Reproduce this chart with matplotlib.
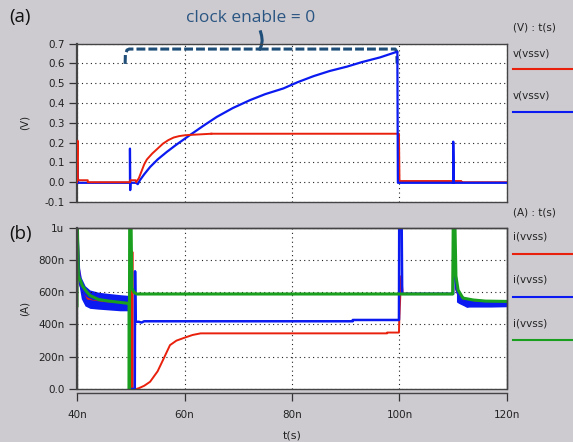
import matplotlib.pyplot as plt
from matplotlib.patches import Rectangle

# ---- panel (a): voltages, t in ns ----
t_a_red = [40.0, 40.1, 40.15, 40.3, 42.0, 42.0, 49.9, 49.9, 50.9, 51.0, 51.5, 52.0, 52.5, 53.0,
           54.0, 55.0, 56.0, 57.0, 58.0, 59.0, 60.0, 61.0, 63.0, 65.0, 99.9, 100.0, 111.5, 111.5, 120.0]
v_a_red = [0.0, 0.21, 0.02, 0.01, 0.01, 0.0, 0.0, 0.01, 0.01, 0.0, 0.02, 0.055, 0.09, 0.115,
           0.145, 0.17, 0.195, 0.213, 0.226, 0.233, 0.237, 0.239, 0.242, 0.245, 0.245, 0.006, 0.006, 0.0, 0.0]

t_a_blue = [40.0, 40.05, 40.2, 49.85, 49.85, 49.9, 49.95, 51.0, 51.3, 51.7, 52.5, 53.6, 55.0, 56.7,
            58.5, 61.0, 63.5, 66.0, 69.0, 72.2, 75.0, 78.4, 81.0, 84.0, 87.0, 90.2, 93.0, 96.4,
            99.6, 99.7, 110.0, 110.0, 110.1, 120.0]
v_a_blue = [0.0, 0.1, -0.003, -0.003, 0.17, -0.04, -0.003, -0.003, -0.01, 0.01, 0.04, 0.077, 0.115, 0.153,
            0.19, 0.238, 0.285, 0.33, 0.375, 0.415, 0.445, 0.474, 0.505, 0.536, 0.562, 0.584, 0.607, 0.631,
            0.66, -0.003, -0.003, 0.205, -0.003, -0.003]

# ---- panel (b): currents in nA ----
t_b_red = [40.0, 40.5, 42.0, 45.0, 49.7, 49.75, 50.25, 50.3, 50.35, 51.0, 51.5, 52.5, 53.6, 55.0,
           56.0, 57.3, 58.5, 60.0, 61.5, 63.0, 97.7, 97.7, 99.9, 99.95, 100.3, 100.6, 109.9, 110.0,
           110.5, 111.0, 112.0, 114.0, 120.0]
i_b_red = [1050, 650, 560, 545, 535, 0, 0, 850, 0, 0, 5, 20, 45, 110,
           180, 272, 300, 318, 335, 345, 345, 350, 350, 420, 700, 590, 590, 1050,
           620, 580, 555, 545, 545]

t_b_blue = [40.0, 40.4, 40.6, 41.0, 42.0, 43.0, 45.0, 48.0, 49.7, 49.75, 50.75, 50.8, 50.9, 51.5,
            52.0, 52.5, 91.3, 91.3, 99.9, 99.95, 100.4, 100.5, 110.0, 110.05, 110.3, 110.6, 111.0,
            112.0, 114.0, 117.0, 120.0]
i_b_blue = [1050, 700, 650, 610, 575, 560, 552, 545, 540, 0, 0, 730, 417, 417,
            412, 420, 420, 428, 428, 1050, 1050, 590, 590, 1050, 800, 620, 580,
            555, 535, 530, 530]

t_band1 = [40.4, 40.8, 41.5, 42.4, 44.0, 46.0, 48.0, 49.7]
hi_band1 = [760, 690, 640, 614, 600, 592, 585, 580]
lo_band1 = [640, 560, 515, 500, 495, 490, 485, 485]
t_band2 = [110.6, 111.0, 112.0, 112.5, 113.0, 115.0, 117.0, 120.0]
hi_band2 = [640, 603, 570, 560, 556, 554, 552, 552]
lo_band2 = [540, 531, 515, 506, 508, 508, 508, 510]

t_b_green = [40.0, 40.0, 40.05, 40.25, 40.6, 41.0, 41.8, 42.4, 44.0, 46.0, 49.0, 49.7, 49.72, 49.8,
             50.05, 50.2, 50.6, 51.1, 109.9, 110.0, 110.3, 110.5, 110.9, 111.8, 113.7, 116.0, 120.0]
i_b_green = [516, 583, 1050, 700, 676, 640, 603, 580, 555, 545, 533, 530, 0, 1050,
             1050, 626, 600, 589, 589, 1050, 1050, 700, 614, 564, 552, 545, 543]

yticks_a = [-0.1, 0.0, 0.1, 0.2, 0.3, 0.4, 0.5, 0.6, 0.7]
ylabels_a = ["-0.1", "0.0", "0.1", "0.2", "0.3", "0.4", "0.5", "0.6", "0.7"]
yticks_b = [0, 200, 400, 600, 800, 1000]
ylabels_b = ["0.0", "200n", "400n", "600n", "800n", "1u"]
xticks = [40, 60, 80, 100, 120]
xlabels = ["40n", "60n", "80n", "100n", "120n"]

RED = "#e8200c"
BLUE = "#0a1af0"
GREEN = "#1aa01e"
NAVY = "#1f4e79"
BG = "#cdcbd0"

plt.rcParams['font.family'] = ['DejaVu Sans']

fig = plt.figure(figsize=(5.73, 4.42), dpi=100)
fig.patch.set_facecolor(BG)
ax1 = fig.add_axes([0.1344, 0.543, 0.7504, 0.3581])
ax2 = fig.add_axes([0.1344, 0.1199, 0.7504, 0.3649])


def style(ax, yt, yl, ylim):
    ax.set_xlim(40, 120)
    ax.set_ylim(*ylim)
    ax.set_yticks(yt)
    ax.set_yticklabels(yl, fontsize=7.5, color="#222222")
    ax.set_xticks(xticks)
    ax.grid(True, color="#222222", linestyle=(0, (1, 3)), linewidth=0.8)
    ax.tick_params(axis="y", direction="out", length=6, width=0.9, pad=3, color="#333333")
    for s in ax.spines.values():
        s.set_color("#444444")
        s.set_linewidth(1.0)
    ax.spines["left"].set_linewidth(1.6)


style(ax1, yticks_a, ylabels_a, (-0.1, 0.7))
ax1.tick_params(axis="x", length=0, labelbottom=False)

ax1.plot(t_a_blue, v_a_blue, color=BLUE, lw=1.6, zorder=3)
ax1.plot(t_a_red[:24], v_a_red[:24], color=RED, lw=1.4, zorder=4)
ax1.plot(t_a_red[23:], v_a_red[23:], color=RED, lw=1.4, zorder=2.9)

# dashed "clock enable" bracket
br_x = [48.95, 49.0, 49.3, 49.7, 74.0, 74.3, 74.45, 74.35, 74.15, 74.5, 99.2, 99.5, 99.55]
br_y = [0.598, 0.645, 0.668, 0.673, 0.673, 0.69, 0.715, 0.74, 0.76, 0.673, 0.673, 0.66, 0.6]
ax1.plot(br_x[:5], br_y[:5], color=NAVY, lw=2.2, linestyle=(0, (2.9, 1.0)), clip_on=False)
ax1.plot(br_x[4:9], br_y[4:9], color=NAVY, lw=2.2, clip_on=False)
ax1.plot([74.0] + br_x[9:], [0.673] + br_y[9:], color=NAVY, lw=2.2,
         linestyle=(0, (2.9, 1.0)), clip_on=False)

style(ax2, yticks_b, ylabels_b, (0, 1000))
ax2.spines["bottom"].set_position(("outward", 3))
ax2.tick_params(axis="x", direction="out", length=6, width=0.9, pad=6,
                labelsize=7.5, labelcolor="#222222", color="#333333")
ax2.set_xticklabels(xlabels)
ax2.add_patch(Rectangle((0, 0), 1, 1, transform=ax2.transAxes, fill=False,
                        edgecolor="#444444", lw=1.0, zorder=5, clip_on=False))

ax2.plot(t_b_red, i_b_red, color=RED, lw=1.4)
ax2.fill_between(t_band1, lo_band1, hi_band1, color=BLUE, lw=0)
ax2.fill_between(t_band2, lo_band2, hi_band2, color=BLUE, lw=0)
ax2.plot(t_b_blue, i_b_blue, color=BLUE, lw=1.8)
ax2.plot(t_b_green, i_b_green, color=GREEN, lw=2.2)

# side legend
lx = 513 / 573
fs = 7.5
fig.text(lx, 0.9367, "(V) : t(s)", fontsize=fs, va="center", color="#222222")
fig.text(lx, 0.880, "v(vssv)", fontsize=fs, va="center", color="#222222")
fig.add_artist(plt.Line2D([lx, 1.0], [0.844, 0.844], color=RED, lw=1.5))
fig.text(lx, 0.783, "v(vssv)", fontsize=fs, va="center", color="#222222")
fig.add_artist(plt.Line2D([lx, 1.0], [0.747, 0.747], color=BLUE, lw=1.5))
fig.text(lx, 0.520, "(A) : t(s)", fontsize=fs, va="center", color="#222222")
fig.text(lx, 0.465, "i(vvss)", fontsize=fs, va="center", color="#222222")
fig.add_artist(plt.Line2D([lx, 1.0], [0.425, 0.425], color=RED, lw=1.5))
fig.text(lx, 0.367, "i(vvss)", fontsize=fs, va="center", color="#222222")
fig.add_artist(plt.Line2D([lx, 1.0], [0.328, 0.328], color=BLUE, lw=1.5))
fig.text(lx, 0.267, "i(vvss)", fontsize=fs, va="center", color="#222222")
fig.add_artist(plt.Line2D([lx, 1.0], [0.231, 0.231], color=GREEN, lw=1.5))

fig.text(25 / 573, 0.722, "(V)", fontsize=fs, rotation=90, ha="center", va="center", color="#222222")
fig.text(25 / 573, 0.3024, "(A)", fontsize=fs, rotation=90, ha="center", va="center", color="#222222")
fig.text(292 / 573, 0.0136, "t(s)", fontsize=8, ha="center", va="center", color="#222222")

fig.text(9 / 573, 0.961, "(a)", fontsize=13.5, family="Open Sans", va="center", color="#111111")
fig.text(9 / 573, 0.471, "(b)", fontsize=13.5, family="Open Sans", va="center", color="#111111")
fig.text(251 / 573, 0.959, "clock enable = 0", fontsize=12.5, family="Open Sans",
         ha="center", va="center", color="#2a5582")

plt.savefig("out.png", dpi=100, facecolor=BG)
